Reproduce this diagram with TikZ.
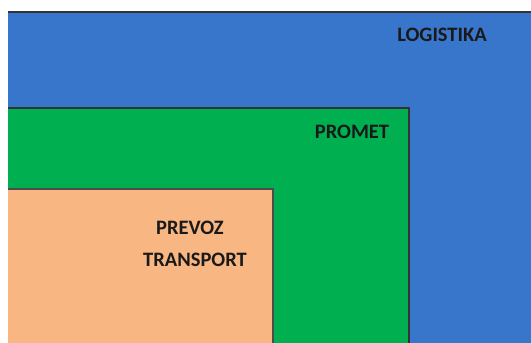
\documentclass[tikz,border=0pt]{standalone}
\usepackage{fontspec}
\setmainfont{Carlito}
\definecolor{logblue}{RGB}{56,118,204}
\definecolor{promgreen}{RGB}{0,176,80}
\definecolor{prevorange}{RGB}{248,182,130}
\begin{document}
\begin{tikzpicture}[x=1pt,y=-1pt]
\tikzset{lbl/.style={font=\bfseries\fontsize{20.5}{24}\selectfont,text=black!90,inner sep=0pt}}
\useasboundingbox (0,0) rectangle (531,343);
\fill[white] (0,0) rectangle (531,343);
\fill[logblue] (8,12) rectangle (531,343);
\draw[line width=1.6pt,black!80] (8,12) -- (531,12);
\fill[promgreen] (8,108) rectangle (409,343);
\draw[line width=1.6pt,black!80] (8,108) -- (409,108) -- (409,343);
\fill[prevorange] (8,189) rectangle (273,343);
\draw[line width=1.6pt,black!70] (8,189) -- (273,189) -- (273,343);
\node[lbl] (logistika) at (442,35) {LOGISTIKA};
\node[lbl] (promet) at (352,132) {PROMET};
\node[lbl] (prevoz) at (190,228) {PREVOZ};
\node[lbl] (transport) at (195,260) {TRANSPORT};
\end{tikzpicture}
\end{document}
